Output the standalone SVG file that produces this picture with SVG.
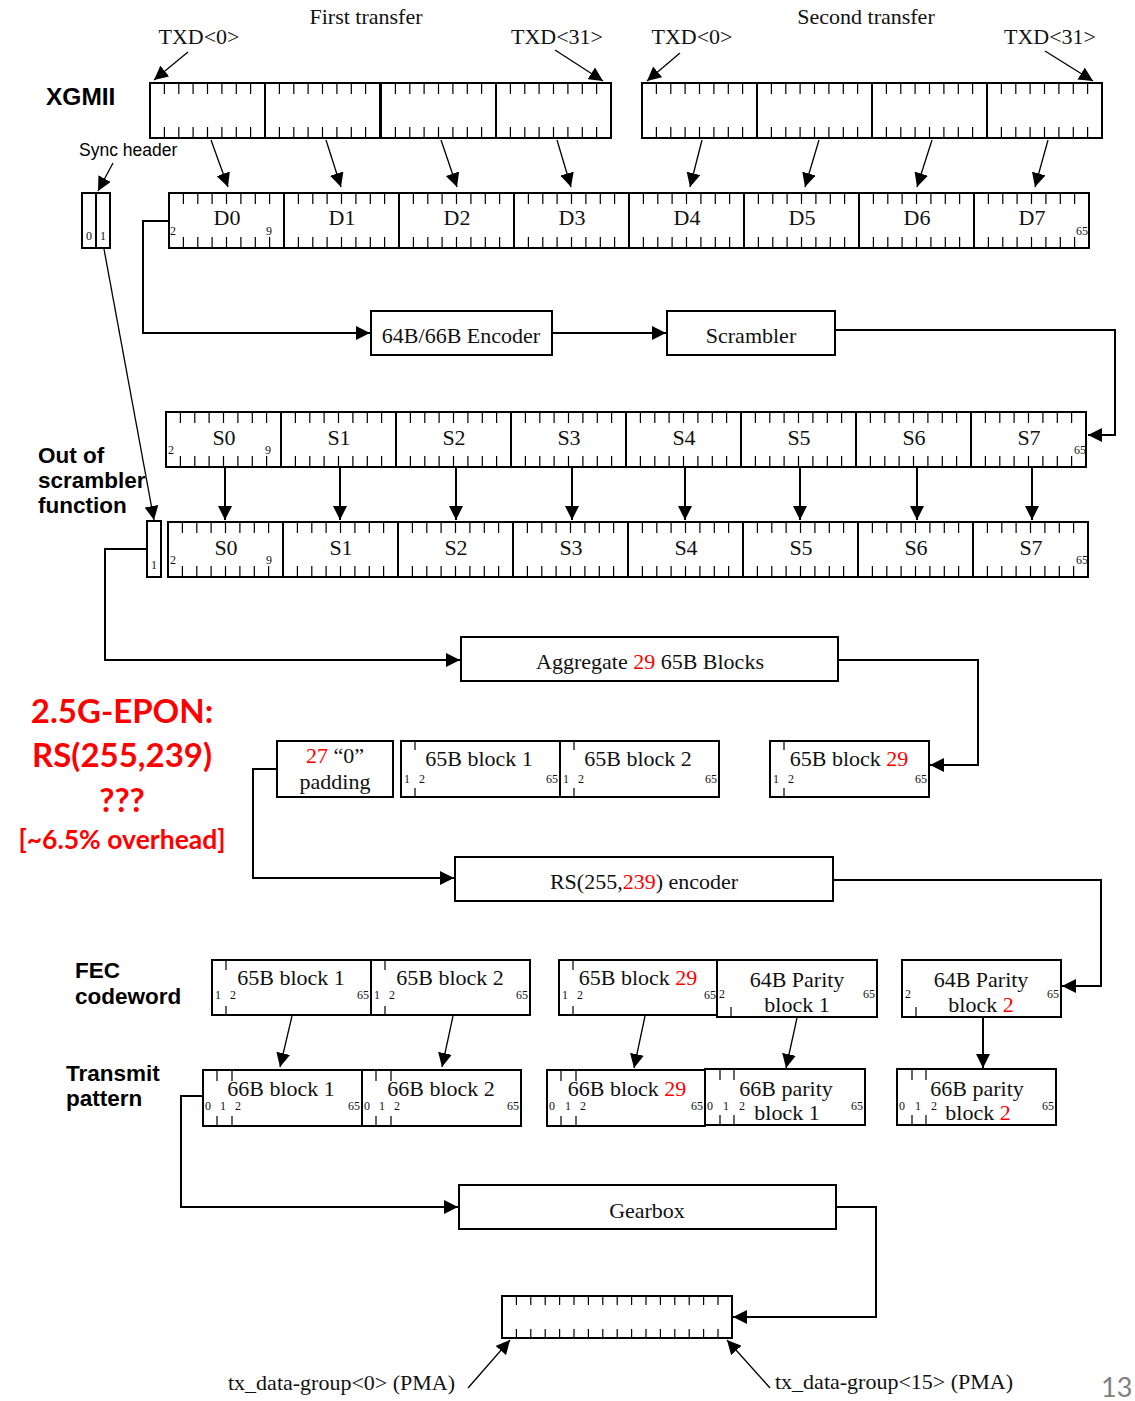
<svg xmlns="http://www.w3.org/2000/svg" xmlns:xlink="http://www.w3.org/1999/xlink" width="1135" height="1401" viewBox="0 0 1135 1401">
<style>
.box{fill:#fff;stroke:#000;stroke-width:2}
.tk{fill:none;stroke:#000;stroke-width:1.2}
.t{font-family:"Liberation Serif","Times New Roman",serif;font-size:22px;fill:#111}
.m{text-anchor:middle}
.e{text-anchor:end}
.s{font-family:"Liberation Serif","Times New Roman",serif;font-size:12px;fill:#111}
.b{font-family:"Liberation Sans",Arial,sans-serif;font-weight:bold;font-size:22.5px;fill:#000}
.sa{font-family:"Liberation Sans",Arial,sans-serif;font-size:17.5px;fill:#000}
.red{fill:#f00}
.big{font-family:Lato,"Open Sans",sans-serif;font-weight:bold;fill:#f00;text-anchor:middle}
.con{fill:none;stroke:#000;stroke-width:2}
.thin{fill:none;stroke:#000;stroke-width:1.3}
</style>
<defs>
<marker id="ah" markerUnits="userSpaceOnUse" viewBox="0 0 14 14" refX="14" refY="7" markerWidth="14" markerHeight="14" orient="auto">
<path d="M0,0 L14,7 L0,14 z" fill="#000"/>
</marker>
<g id="cell">
<rect width="115" height="55" class="box"/>
<path class="tk" d="M14.4 0v11M28.8 0v11M43.1 0v11M57.5 0v11M71.9 0v11M86.3 0v11M100.6 0v11M14.4 44v11M28.8 44v11M43.1 44v11M57.5 44v11M71.9 44v11M86.3 44v11M100.6 44v11"/>
</g>
</defs>
<rect width="1135" height="1401" fill="#fff"/>

<g id="labels">
<text class="t m" x="366" y="24">First transfer</text>
<text class="t m" x="866" y="24">Second transfer</text>
<text class="t m" x="199" y="44">TXD&lt;0&gt;</text>
<text class="t m" x="557" y="44">TXD&lt;31&gt;</text>
<text class="t m" x="692" y="44">TXD&lt;0&gt;</text>
<text class="t m" x="1050" y="44">TXD&lt;31&gt;</text>
<text class="b" x="46" y="105" style="font-size:24.5px">XGMII</text>
<text class="sa" x="79" y="156">Sync header</text>
<text class="b" x="38" y="463">Out of</text>
<text class="b" x="38" y="488">scrambler</text>
<text class="b" x="38" y="513">function</text>
<text class="b" x="75" y="978">FEC</text>
<text class="b" x="75" y="1004">codeword</text>
<text class="b" x="66" y="1081">Transmit</text>
<text class="b" x="66" y="1106">pattern</text>
<text class="big" x="122" y="723" style="font-size:33px">2.5G-EPON:</text>
<text class="big" x="122" y="767" style="font-size:33px">RS(255,239)</text>
<text class="big" x="122" y="812" style="font-size:33px">???</text>
<text class="big" x="122" y="849" style="font-size:26.5px">[~6.5% overhead]</text>
<text class="t" x="228" y="1390">tx_data-group&lt;0&gt; (PMA)</text>
<text class="t" x="775" y="1389">tx_data-group&lt;15&gt; (PMA)</text>
<text x="1101" y="1397" style="font-family:Lato,'Open Sans',sans-serif;font-size:27px;fill:#7f7f7f">13</text>
</g>

<g id="xgmii-first">
<use xlink:href="#cell" x="150" y="83"/>
<use xlink:href="#cell" x="265" y="83"/>
<use xlink:href="#cell" x="381" y="83"/>
<use xlink:href="#cell" x="496" y="83"/>
</g>
<g id="xgmii-second">
<use xlink:href="#cell" x="642" y="83"/>
<use xlink:href="#cell" x="757" y="83"/>
<use xlink:href="#cell" x="872" y="83"/>
<use xlink:href="#cell" x="987" y="83"/>
</g>

<g id="sync-header">
<rect class="box" x="82" y="193" width="14" height="55"/>
<rect class="box" x="96" y="193" width="14" height="55"/>
<text class="s m" x="89" y="240">0</text>
<text class="s m" x="103" y="240">1</text>
</g>

<g id="d-row">
<use xlink:href="#cell" x="169" y="193"/>
<use xlink:href="#cell" x="284" y="193"/>
<use xlink:href="#cell" x="399" y="193"/>
<use xlink:href="#cell" x="514" y="193"/>
<use xlink:href="#cell" x="629" y="193"/>
<use xlink:href="#cell" x="744" y="193"/>
<use xlink:href="#cell" x="859" y="193"/>
<use xlink:href="#cell" x="974" y="193"/>
<text class="t m" x="227" y="225">D0</text>
<text class="t m" x="342" y="225">D1</text>
<text class="t m" x="457" y="225">D2</text>
<text class="t m" x="572" y="225">D3</text>
<text class="t m" x="687" y="225">D4</text>
<text class="t m" x="802" y="225">D5</text>
<text class="t m" x="917" y="225">D6</text>
<text class="t m" x="1032" y="225">D7</text>
<text class="s" x="170" y="235">2</text>
<text class="s" x="266" y="235">9</text>
<text class="s e" x="1088" y="235">65</text>
</g>

<g id="encoder">
<rect class="box" x="371" y="311" width="181" height="44"/>
<text class="t m" x="461" y="343">64B/66B Encoder</text>
</g>
<g id="scrambler">
<rect class="box" x="667" y="311" width="168" height="44"/>
<text class="t m" x="751" y="343">Scrambler</text>
</g>

<g id="s-row-top">
<use xlink:href="#cell" x="166" y="412"/>
<use xlink:href="#cell" x="281" y="412"/>
<use xlink:href="#cell" x="396" y="412"/>
<use xlink:href="#cell" x="511" y="412"/>
<use xlink:href="#cell" x="626" y="412"/>
<use xlink:href="#cell" x="741" y="412"/>
<use xlink:href="#cell" x="856" y="412"/>
<use xlink:href="#cell" x="971" y="412"/>
<text class="t m" x="224" y="445">S0</text>
<text class="t m" x="339" y="445">S1</text>
<text class="t m" x="454" y="445">S2</text>
<text class="t m" x="569" y="445">S3</text>
<text class="t m" x="684" y="445">S4</text>
<text class="t m" x="799" y="445">S5</text>
<text class="t m" x="914" y="445">S6</text>
<text class="t m" x="1029" y="445">S7</text>
<text class="s" x="168" y="454">2</text>
<text class="s" x="265" y="454">9</text>
<text class="s e" x="1086" y="454">65</text>
</g>

<g id="sync-out">
<rect class="box" x="147" y="521" width="14" height="56"/>
<text class="s m" x="154" y="569">1</text>
</g>

<g id="s-row-bottom">
<use xlink:href="#cell" x="168" y="522"/>
<use xlink:href="#cell" x="283" y="522"/>
<use xlink:href="#cell" x="398" y="522"/>
<use xlink:href="#cell" x="513" y="522"/>
<use xlink:href="#cell" x="628" y="522"/>
<use xlink:href="#cell" x="743" y="522"/>
<use xlink:href="#cell" x="858" y="522"/>
<use xlink:href="#cell" x="973" y="522"/>
<text class="t m" x="226" y="555">S0</text>
<text class="t m" x="341" y="555">S1</text>
<text class="t m" x="456" y="555">S2</text>
<text class="t m" x="571" y="555">S3</text>
<text class="t m" x="686" y="555">S4</text>
<text class="t m" x="801" y="555">S5</text>
<text class="t m" x="916" y="555">S6</text>
<text class="t m" x="1031" y="555">S7</text>
<text class="s" x="170" y="564">2</text>
<text class="s" x="266" y="564">9</text>
<text class="s e" x="1088" y="564">65</text>
</g>

<g id="aggregate">
<rect class="box" x="461" y="637" width="377" height="44"/>
<text class="t m" x="650" y="669">Aggregate <tspan class="red">29</tspan> 65B Blocks</text>
</g>

<g id="padding">
<rect class="box" x="277" y="741" width="116" height="56"/>
<text class="t m" x="335" y="763"><tspan class="red">27</tspan> “0”</text>
<text class="t m" x="335" y="789">padding</text>
</g>
<g id="agg-65b-1">
<rect class="box" x="401" y="741" width="159" height="56"/>
<path class="tk" d="M415 741v9M415 788v9"/>
<text class="t m" x="479" y="766">65B block 1</text>
<text class="s" x="404" y="783">1</text><text class="s" x="419" y="783">2</text><text class="s e" x="558" y="783">65</text>
</g>
<g id="agg-65b-2">
<rect class="box" x="560" y="741" width="159" height="56"/>
<path class="tk" d="M574 741v9M574 788v9"/>
<text class="t m" x="638" y="766">65B block 2</text>
<text class="s" x="563" y="783">1</text><text class="s" x="578" y="783">2</text><text class="s e" x="717" y="783">65</text>
</g>
<g id="agg-65b-29">
<rect class="box" x="770" y="741" width="159" height="56"/>
<path class="tk" d="M784 741v9M784 788v9"/>
<text class="t m" x="849" y="766">65B block <tspan class="red">29</tspan></text>
<text class="s" x="773" y="783">1</text><text class="s" x="788" y="783">2</text><text class="s e" x="927" y="783">65</text>
</g>

<g id="rs-encoder">
<rect class="box" x="455" y="857" width="378" height="44"/>
<text class="t m" x="644" y="889">RS(255,<tspan class="red">239</tspan>) encoder</text>
</g>

<g id="fec-65b-1">
<rect class="box" x="212" y="960" width="159" height="55"/>
<path class="tk" d="M226 960v10M226 1006v9"/>
<text class="t m" x="291" y="985">65B block 1</text>
<text class="s" x="215" y="999">1</text><text class="s" x="230" y="999">2</text><text class="s e" x="369" y="999">65</text>
</g>
<g id="fec-65b-2">
<rect class="box" x="371" y="960" width="159" height="55"/>
<path class="tk" d="M385 960v10M385 1006v9"/>
<text class="t m" x="450" y="985">65B block 2</text>
<text class="s" x="374" y="999">1</text><text class="s" x="389" y="999">2</text><text class="s e" x="528" y="999">65</text>
</g>
<g id="fec-65b-29">
<rect class="box" x="559" y="960" width="159" height="55"/>
<path class="tk" d="M573 960v10M573 1006v9"/>
<text class="t m" x="638" y="985">65B block <tspan class="red">29</tspan></text>
<text class="s" x="562" y="999">1</text><text class="s" x="577" y="999">2</text><text class="s e" x="716" y="999">65</text>
</g>
<g id="fec-parity-1">
<rect class="box" x="717" y="960" width="160" height="57"/>
<path class="tk" d="M731 1007v10"/>
<text class="t m" x="797" y="987">64B Parity</text>
<text class="t m" x="797" y="1012">block 1</text>
<text class="s" x="719" y="998">2</text><text class="s e" x="875" y="998">65</text>
</g>
<g id="fec-parity-2">
<rect class="box" x="902" y="960" width="159" height="57"/>
<path class="tk" d="M916 1007v10"/>
<text class="t m" x="981" y="987">64B Parity</text>
<text class="t m" x="981" y="1012">block <tspan class="red">2</tspan></text>
<text class="s" x="905" y="998">2</text><text class="s e" x="1059" y="998">65</text>
</g>

<g id="tx-66b-1">
<rect class="box" x="203" y="1070" width="159" height="56"/>
<path class="tk" d="M217 1070v11M232 1070v11M217 1116v10M232 1116v10"/>
<text class="t m" x="281" y="1096">66B block 1</text>
<text class="s" x="205" y="1110">0</text><text class="s" x="220" y="1110">1</text><text class="s" x="235" y="1110">2</text><text class="s e" x="360" y="1110">65</text>
</g>
<g id="tx-66b-2">
<rect class="box" x="362" y="1070" width="159" height="56"/>
<path class="tk" d="M376 1070v11M391 1070v11M376 1116v10M391 1116v10"/>
<text class="t m" x="441" y="1096">66B block 2</text>
<text class="s" x="364" y="1110">0</text><text class="s" x="379" y="1110">1</text><text class="s" x="394" y="1110">2</text><text class="s e" x="519" y="1110">65</text>
</g>
<g id="tx-66b-29">
<rect class="box" x="547" y="1070" width="158" height="56"/>
<path class="tk" d="M561 1070v11M576 1070v11M561 1116v10M576 1116v10"/>
<text class="t m" x="627" y="1096">66B block <tspan class="red">29</tspan></text>
<text class="s" x="549" y="1110">0</text><text class="s" x="565" y="1110">1</text><text class="s" x="580" y="1110">2</text><text class="s e" x="703" y="1110">65</text>
</g>
<g id="tx-parity-1">
<rect class="box" x="705" y="1069" width="160" height="56"/>
<path class="tk" d="M720 1069v11M734 1069v11M720 1115v10M734 1115v10"/>
<text class="t m" x="786" y="1096">66B parity</text>
<text class="t m" x="787" y="1120">block 1</text>
<text class="s" x="707" y="1110">0</text><text class="s" x="723" y="1110">1</text><text class="s" x="739" y="1110">2</text><text class="s e" x="863" y="1110">65</text>
</g>
<g id="tx-parity-2">
<rect class="box" x="897" y="1069" width="159" height="56"/>
<path class="tk" d="M912 1069v11M926 1069v11M912 1115v10M926 1115v10"/>
<text class="t m" x="977" y="1096">66B parity</text>
<text class="t m" x="978" y="1120">block <tspan class="red">2</tspan></text>
<text class="s" x="899" y="1110">0</text><text class="s" x="915" y="1110">1</text><text class="s" x="931" y="1110">2</text><text class="s e" x="1054" y="1110">65</text>
</g>

<g id="gearbox">
<rect class="box" x="459" y="1185" width="377" height="44"/>
<text class="t m" x="647" y="1218">Gearbox</text>
</g>

<g id="pma-out">
<rect class="box" x="502" y="1296" width="230" height="42"/>
<path class="tk" d="M516.4 1296v9M530.8 1296v9M545.2 1296v9M559.6 1296v9M574 1296v9M588.4 1296v9M602.8 1296v9M617.2 1296v9M631.6 1296v9M646 1296v9M660.4 1296v9M674.8 1296v9M689.2 1296v9M703.6 1296v9M718 1296v9M516.4 1329v9M530.8 1329v9M545.2 1329v9M559.6 1329v9M574 1329v9M588.4 1329v9M602.8 1329v9M617.2 1329v9M631.6 1329v9M646 1329v9M660.4 1329v9M674.8 1329v9M689.2 1329v9M703.6 1329v9M718 1329v9"/>
</g>

<g id="connectors">
<g class="thin" marker-end="url(#ah)">
<path d="M188 52L154 80"/>
<path d="M555 50L603 81"/>
<path d="M680 53L647 81"/>
<path d="M1045 51L1093 81"/>
<path d="M113 163L98 191"/>
<path d="M211 140L228 187"/>
<path d="M326 140L341 187"/>
<path d="M441 140L457 187"/>
<path d="M557 140L571 187"/>
<path d="M702 140L690 187"/>
<path d="M819 140L805 187"/>
<path d="M932 140L917 187"/>
<path d="M1048 140L1035 187"/>
<path d="M104 249L154 520"/>
<path d="M292 1016L280 1067"/>
<path d="M453 1016L442 1067"/>
<path d="M645 1016L634 1068"/>
<path d="M797 1018L786 1068"/>
<path d="M468 1388L510 1340"/>
<path d="M770 1388L727 1340"/>
</g>
<g class="con" marker-end="url(#ah)">
<path d="M169 221H143V333H370"/>
<path d="M552 333H666"/>
<path d="M835 330H1115V435H1088"/>
<path d="M225 468V520"/>
<path d="M340 468V520"/>
<path d="M456 468V520"/>
<path d="M572 468V520"/>
<path d="M685 468V520"/>
<path d="M800 468V520"/>
<path d="M917 468V520"/>
<path d="M1032 468V520"/>
<path d="M147 549H105V660H460"/>
<path d="M838 660H978V765H930"/>
<path d="M277 769H253V878H454"/>
<path d="M833 880H1101V986H1062"/>
<path d="M983 1017V1068"/>
<path d="M203 1096H181V1207H458"/>
<path d="M836 1207H876V1317H733"/>
</g>
</g>
</svg>
